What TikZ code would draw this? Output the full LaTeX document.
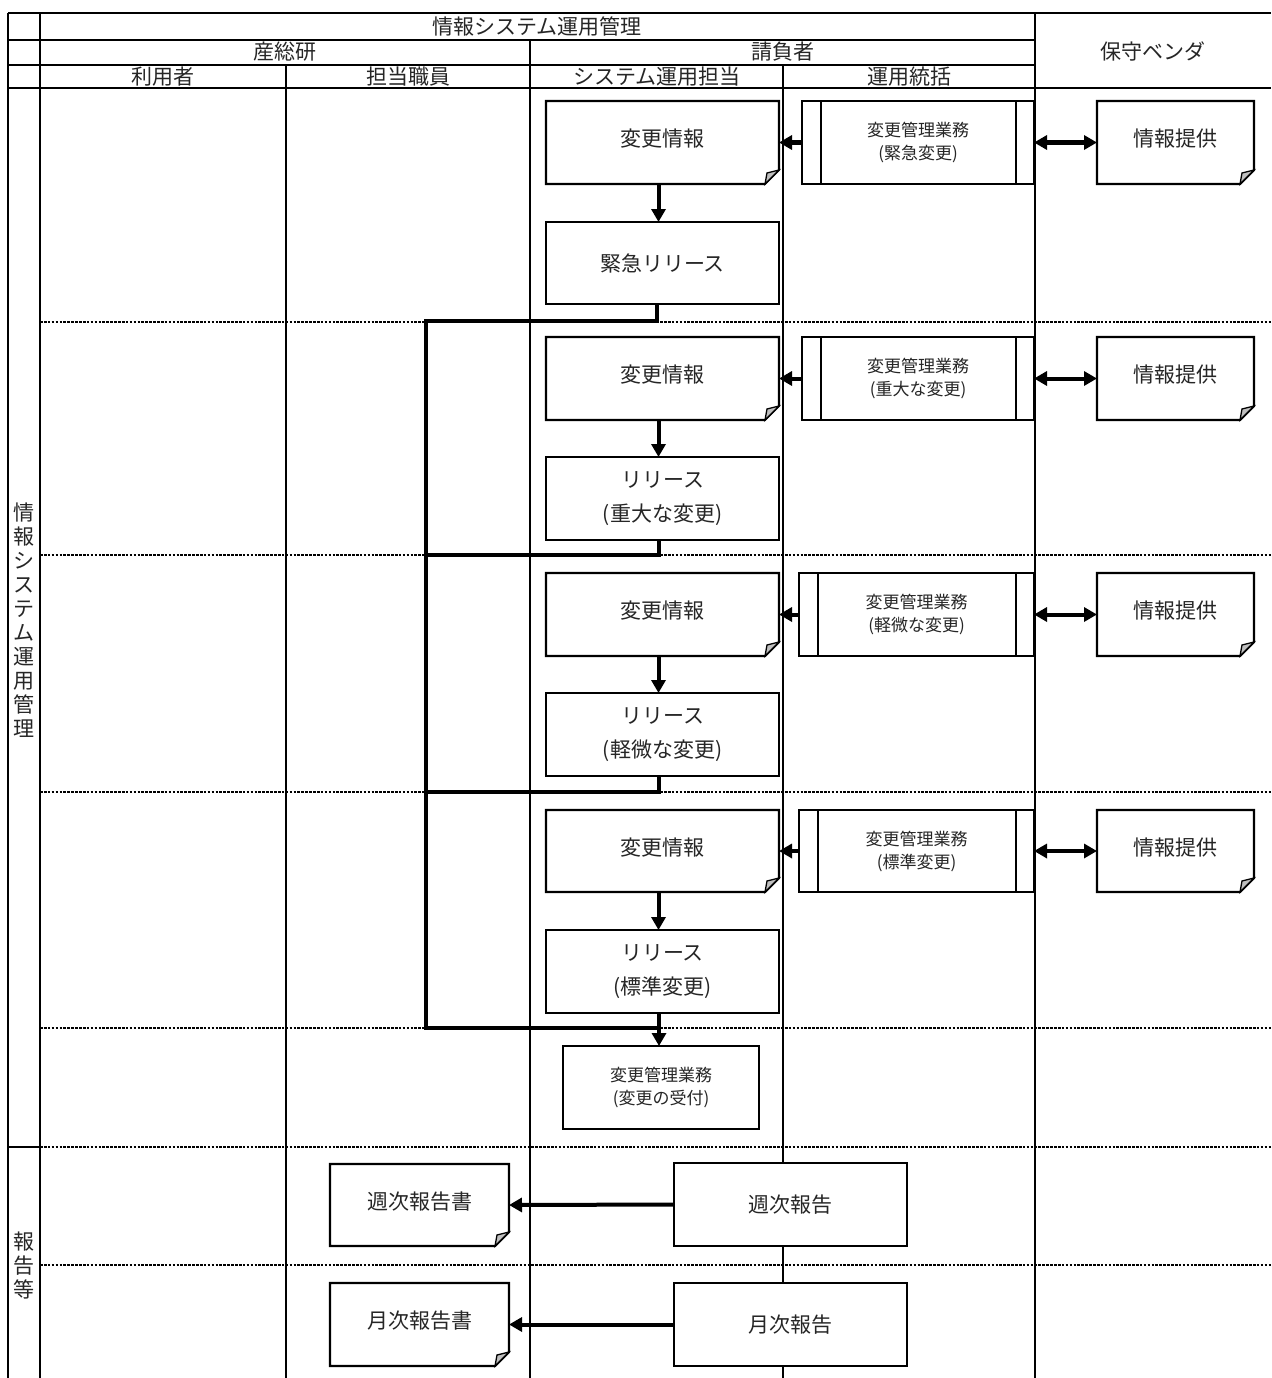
\documentclass[tikz,border=0pt]{standalone}
\usepackage{fontspec}
\setmainfont{Noto Sans CJK JP}
\usetikzlibrary{arrows.meta}

\definecolor{ink}{gray}{0.15}
\definecolor{foldgray}{gray}{0.75}

\tikzset{
  lane/.style={line width=2.1pt},
  sepline/.style={line width=2.6pt, dash pattern=on 2.6pt off 1.3pt},
  boxline/.style={line width=2.1pt, line join=miter},
  big/.style={font=\fontsize{21}{34}\selectfont},
  small/.style={font=\fontsize{17}{23}\selectfont},
  txt/.style={inner sep=0pt, outer sep=0pt, text=ink, align=center, big},
  procbox/.style={draw, boxline, fill=white, inner sep=0pt, outer sep=0pt,
    text=ink, align=center},
  docbox/.style={fill=white, inner sep=0pt, outer sep=0pt, text=ink, align=center},
  tip/.tip={Triangle[length=13pt,width=14pt]},
  flow/.style={line width=4pt, -tip},
  twoway/.style={line width=4pt, tip-tip},
  feed/.style={line width=4.5pt, line join=miter}
}

% plain box: style, name, x1, y1, x2, y2, text
\newcommand\PlainBox[7]{%
  \node[procbox,#1, minimum width={#5-#3}, minimum height={#6-#4}]
    (#2) at ({(#3+#5)/2},{(#4+#6)/2}) {#7};}

% predefined process: box with inner side bars
\newcommand\PredefBox[7]{%
  \PlainBox{#1}{#2}{#3}{#4}{#5}{#6}{#7}
  \draw[boxline] ([xshift=19pt]#2.north west) -- ([xshift=19pt]#2.south west);
  \draw[boxline] ([xshift=-18pt]#2.north east) -- ([xshift=-18pt]#2.south east);}

% document: box with a folded lower right corner
\newcommand\DocBox[7]{%
  \node[docbox,#1, minimum width={#5-#3}, minimum height={#6-#4}]
    (#2) at ({(#3+#5)/2},{(#4+#6)/2}) {\raisebox{9pt}{#7}};
  \draw[boxline] (#2.north west) -- (#2.north east) -- ([yshift=14pt]#2.south east)
    -- ([xshift=-14pt]#2.south east) -- (#2.south west) -- cycle;
  \draw[boxline, fill=foldgray, line width=1.3pt] ([xshift=-14pt]#2.south east)
    -- ([yshift=14pt]#2.south east) -- ([xshift=-12pt,yshift=11pt]#2.south east) -- cycle;}

\begin{document}
\begin{tikzpicture}[x=1pt, y=-1pt]
\useasboundingbox[fill=white] (0,0) rectangle (1271,1378);

% ---- table frame ----
\draw[lane] (8,13) -- (1271,13);
\draw[lane] (8,40) -- (1035,40);
\draw[lane] (8,65) -- (1035,65);
\draw[lane] (8,88) -- (1271,88);
\draw[lane] (8,1147) -- (40,1147);
\draw[lane] (8,13) -- (8,1378);
\draw[lane] (40,13) -- (40,1378);
\draw[lane] (1035,13) -- (1035,1378);
\draw[lane] (530,40) -- (530,1378);
\draw[lane] (286,65) -- (286,1378);
\draw[lane] (783,65) -- (783,1378);

% ---- header texts ----
\node[txt] (hAll)  at (537,27) {情報システム運用管理};
\node[txt] (hAist) at (285,52) {産総研};
\node[txt] (hCont) at (783,52) {請負者};
\node[txt] (hVend) at (1153,51) {保守ベンダ};
\node[txt] (hUser) at (163,77) {利用者};
\node[txt] (hStaf) at (408,77) {担当職員};
\node[txt] (hOper) at (657,77) {システム運用担当};
\node[txt] (hMgr)  at (909,77) {運用統括};

% ---- row labels ----
\node[txt, font=\fontsize{21}{24}\selectfont] (vOps) at (24,620)
  {情\\報\\シ\\ス\\テ\\ム\\運\\用\\管\\理};
\node[txt, font=\fontsize{21}{24}\selectfont] (vRep) at (24,1266) {報\\告\\等};

% ---- section separators ----
\foreach \yy in {322,555,792,1028,1147,1265}
  \draw[sepline] (40,\yy) -- (1271,\yy);

% ---- feedback route to change reception ----
\coordinate (c1) at (426,321);
\coordinate (c2) at (426,555);
\coordinate (c3) at (426,792);
\coordinate (c4) at (426,1028);
\coordinate (j4) at (659,1028);
\draw[feed] (657,304) |- (c1) -- (c4) -- (j4) -- (659,1013);
\draw[feed] (659,540) |- (c2);
\draw[feed] (659,776) |- (c3);

% ---- emergency change ----
\DocBox{big}{d1}{546}{101}{779}{184}{変更情報}
\PlainBox{big}{r1}{546}{222}{779}{304}{緊急リリース}
\PredefBox{small}{p1}{802}{101}{1034}{184}{変更管理業務\\(緊急変更)}
\DocBox{big}{i1}{1097}{101}{1254}{184}{情報提供}

% ---- major change ----
\DocBox{big}{d2}{546}{337}{779}{420}{変更情報}
\PlainBox{big}{r2}{546}{457}{779}{540}{リリース\\(重大な変更)}
\PredefBox{small}{p2}{802}{337}{1034}{420}{変更管理業務\\(重大な変更)}
\DocBox{big}{i2}{1097}{337}{1254}{420}{情報提供}

% ---- minor change ----
\DocBox{big}{d3}{546}{573}{779}{656}{変更情報}
\PlainBox{big}{r3}{546}{693}{779}{776}{リリース\\(軽微な変更)}
\PredefBox{small}{p3}{799}{573}{1034}{656}{変更管理業務\\(軽微な変更)}
\DocBox{big}{i3}{1097}{573}{1254}{656}{情報提供}

% ---- standard change ----
\DocBox{big}{d4}{546}{810}{779}{892}{変更情報}
\PlainBox{big}{r4}{546}{930}{779}{1013}{リリース\\(標準変更)}
\PredefBox{small}{p4}{799}{810}{1034}{892}{変更管理業務\\(標準変更)}
\DocBox{big}{i4}{1097}{810}{1254}{892}{情報提供}

% ---- change reception ----
\PlainBox{small}{u}{563}{1046}{759}{1129}{変更管理業務\\(変更の受付)}

% ---- reports ----
\DocBox{big}{w1}{330}{1164}{509}{1246}{週次報告書}
\PlainBox{big}{w2}{674}{1163}{907}{1246}{週次報告}
\DocBox{big}{m1}{330}{1283}{509}{1366}{月次報告書}
\PlainBox{big}{m2}{674}{1283}{907}{1366}{月次報告}

% ---- connectors ----
\foreach \k in {1,2,3,4} {
  \draw[flow] ([xshift=-4pt]d\k.south) -- ([xshift=-4pt]r\k.north);
  \draw[flow] (p\k.west) -- (d\k.east);
  \draw[twoway] (p\k.east) -- (i\k.west);
}
\draw[flow] (j4) -- (j4 |- u.north);
\draw[flow] (w2.west) -- (w1.east);
\draw[flow] (m2.west) -- (m1.east);
\end{tikzpicture}
\end{document}
